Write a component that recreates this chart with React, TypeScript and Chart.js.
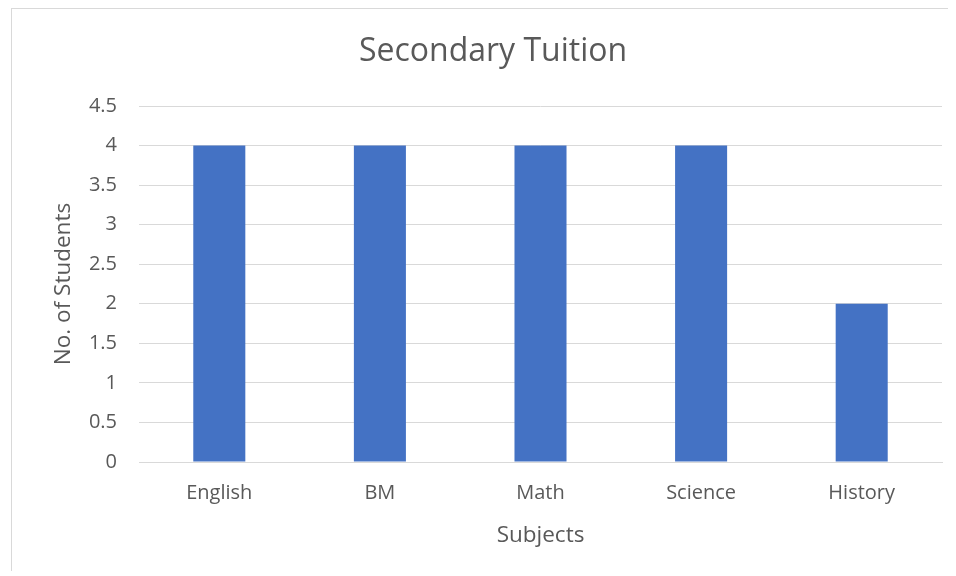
import React, { useEffect, useRef } from "react";
import { Chart, registerables } from "chart.js";

Chart.register(...registerables);

const categories = ["English", "BM", "Math", "Science", "History"];
const studentCounts = [4, 4, 4, 4, 2];
const yTickValues = [0, 0.5, 1, 1.5, 2, 2.5, 3, 3.5, 4, 4.5];
const yTickLabels = ["0", "0.5", "1", "1.5", "2", "2.5", "3", "3.5", "4", "4.5"];
const chartTitle = "Secondary Tuition";
const xAxisTitle = "Subjects";
const yAxisTitle = "No. of Students";

const FONT = "'Open Sans', 'Noto Sans', sans-serif";
const TEXT = "#595959";
const GRID = "#d9d9d9";

export default function App() {
  const ref = useRef<HTMLCanvasElement | null>(null);

  useEffect(() => {
    if (!ref.current) return;
    const chart = new Chart(ref.current, {
      type: "bar",
      data: {
        labels: categories,
        datasets: [
          {
            label: yAxisTitle,
            data: studentCounts,
            backgroundColor: "#4472c4",
            borderWidth: 0,
            categoryPercentage: 1,
            barPercentage: 0.324,
          },
        ],
      },
      options: {
        responsive: false,
        animation: false,
        layout: { padding: { left: 32, right: 5, top: 0, bottom: 21.5 } },
        plugins: {
          legend: { display: false },
          tooltip: { enabled: false },
          title: {
            display: true,
            text: chartTitle,
            color: TEXT,
            font: { family: FONT, size: 32, weight: "normal" },
            padding: { top: 23.3, bottom: 35.3 },
          },
        },
        scales: {
          x: {
            grid: { display: false, drawTicks: false },
            border: { display: true, color: GRID, width: 1 },
            ticks: {
              color: TEXT,
              font: { family: FONT, size: 20 },
              padding: 19,
              maxRotation: 0,
            },
            title: {
              display: true,
              text: xAxisTitle,
              color: TEXT,
              font: { family: FONT, size: 22.5 },
              padding: { top: 0, bottom: 0 },
            },
            afterFit: (scale: any) => {
              scale.height = 87.5;
            },
          },
          y: {
            min: 0,
            max: 4.5,
            grid: { color: GRID, lineWidth: 1, drawTicks: false },
            border: { display: false },
            afterBuildTicks: (scale: any) => {
              scale.ticks = yTickValues.map((v) => ({ value: v }));
            },
            ticks: {
              color: TEXT,
              font: { family: FONT, size: 20 },
              padding: 22,
              callback: (value: any) => {
                const i = yTickValues.indexOf(Number(value));
                return i >= 0 ? yTickLabels[i] : "";
              },
            },
            title: {
              display: true,
              text: yAxisTitle,
              color: TEXT,
              font: { family: FONT, size: 22.5 },
              padding: { top: 6, bottom: 0 },
            },
            afterFit: (scale: any) => {
              scale.width = 95;
            },
          },
        },
      },
    });
    return () => chart.destroy();
  }, []);

  return (
    <div
      style={{
        marginLeft: 3,
        width: 936,
        height: 562,
        borderTop: "1px solid #d9d9d9",
        borderLeft: "1px solid #d9d9d9",
        background: "#ffffff",
      }}
    >
      <canvas ref={ref} width={935} height={562} style={{ display: "block" }} />
    </div>
  );
}
